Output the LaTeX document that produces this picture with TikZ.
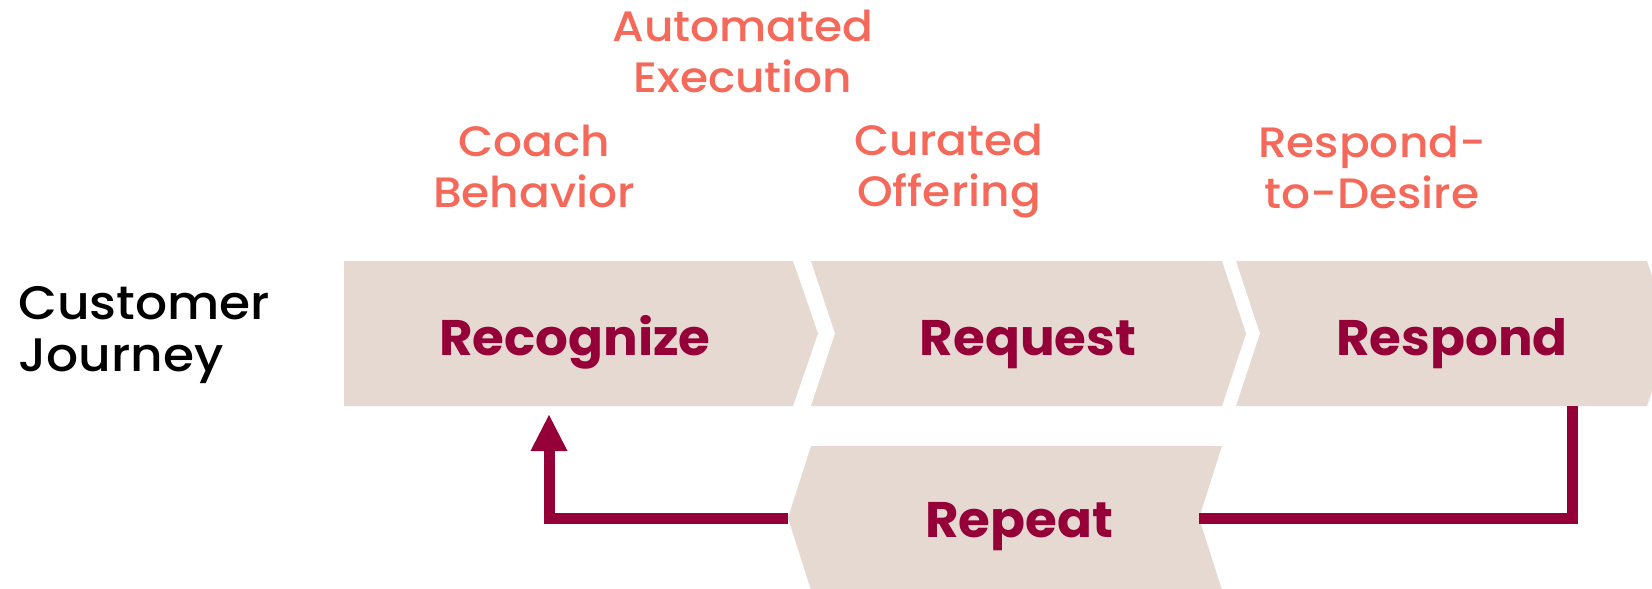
\documentclass[tikz,border=0pt]{standalone}
\usepackage{fontspec}
\setmainfont{Poppins}
\newfontfamily\labfont[FakeStretch=1.07]{Poppins Medium}
\newfontfamily\stagefont[FakeStretch=1.03]{Poppins}
\usetikzlibrary{arrows.meta}
\definecolor{beige}{HTML}{E6D9D1}
\definecolor{wine}{HTML}{960038}
\definecolor{coral}{HTML}{F5695A}
\tikzset{
  stage/.style={fill=beige, draw=none},
  stagetext/.style={anchor=base, text=wine, inner sep=0pt, font=\stagefont\bfseries\fontsize{50}{50}\selectfont},
  lever/.style={anchor=base, text=coral, inner sep=0pt, align=center, font=\labfont\fontsize{42.5}{51}\selectfont},
  conn/.style={draw=wine, line width=11pt, line join=miter},
}
\begin{document}
\begin{tikzpicture}[x=1pt,y=-1pt]
\clip (0,0) rectangle (1652,589);
\fill[white] (0,0) rectangle (1652,589);
% stages
\path[stage] (344,261) -- (793,261) -- (818,333.5) -- (793,406) -- (344,406) -- cycle;
\path[stage] (811,261) -- (1222,261) -- (1246,333.5) -- (1222,406) -- (811,406) -- (835,333.5) -- cycle;
\path[stage] (1236,261) -- (1647,261) -- (1671,333.5) -- (1647,406) -- (1236,406) -- (1260,333.5) -- cycle;
\path[stage] (811,446) -- (1222,446) -- (1199,518) -- (1222,590) -- (811,590) -- (788,518) -- cycle;
% stage labels
\node[stagetext] (recognize) at (575,355) {Recognize};
\node[stagetext] (request) at (1028,355) {Request};
\node[stagetext] (respond) at (1452,355) {Respond};
\node[stagetext] (repeat) at (1019,537) {Repeat};
% row label (base anchor = last line)
\node[anchor=base west, inner sep=0pt, align=left, font=\labfont\fontsize{47}{52}\selectfont] (journey) at (18,371) {Customer\\Journey};
% levers (base anchor = last line)
\node[lever] (auto) at (743,92) {Automated\\Execution};
\node[lever] (coach) at (534,207) {Coach\\Behavior};
\node[lever] (curated) at (949,206) {Curated\\Offering};
\node[lever] (desire) at (1372,208) {Respond-\\to-Desire};
% connectors
\coordinate (respondfoot) at (1572,406);
\coordinate (repeatnotch) at (1199,518);
\coordinate (repeattip) at (788,518);
\coordinate (recognizefoot) at (549,414);
\draw[conn] (respondfoot) |- (repeatnotch);
\draw[conn, -{Triangle[width=34pt, length=37pt]}] (repeattip) -| (recognizefoot);
\end{tikzpicture}
\end{document}
